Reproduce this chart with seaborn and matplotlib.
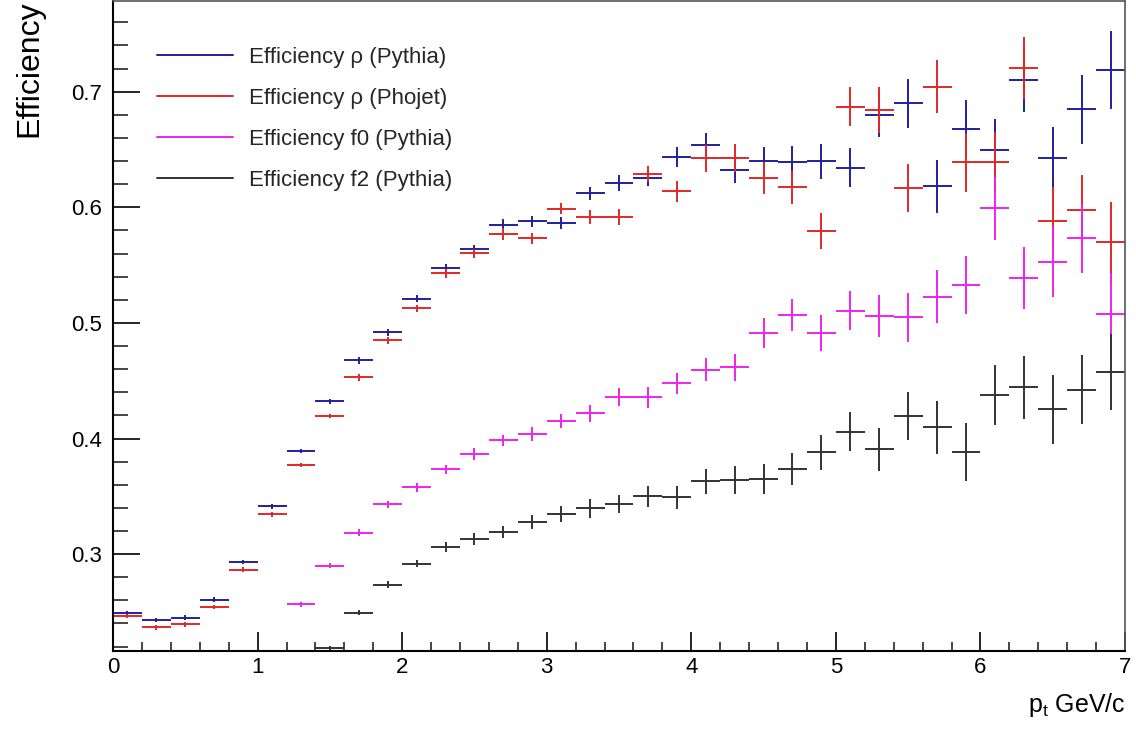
import numpy as np
import pandas as pd
import matplotlib
matplotlib.use("Agg")
import matplotlib.pyplot as plt
from matplotlib.lines import Line2D
from matplotlib.ticker import MultipleLocator
from matplotlib import font_manager
import seaborn as sns

# ---------------- data ----------------
bin_centers = [round(0.1 + 0.2 * i, 1) for i in range(35)]
bin_halfwidth = 0.1

rho_pythia = [0.2488, 0.2430, 0.2451, 0.2607, 0.2931, 0.3412, 0.3893, 0.4322, 0.4676, 0.4920,
              0.5211, 0.5473, 0.5637, 0.5848, 0.5879, 0.5863, 0.6120, 0.6212, 0.6252, 0.6435,
              0.6543, 0.6323, 0.6398, 0.6392, 0.6398, 0.6343, 0.6798, 0.6899, 0.6182, 0.6680,
              0.6496, 0.7098, 0.6424, 0.6847, 0.7188]
rho_pythia_err = [0.002, 0.002, 0.002, 0.002, 0.002, 0.002, 0.002, 0.002, 0.003, 0.003,
                  0.003, 0.004, 0.004, 0.005, 0.005, 0.005, 0.006, 0.007, 0.007, 0.009,
                  0.010, 0.011, 0.012, 0.014, 0.015, 0.017, 0.019, 0.021, 0.023, 0.025,
                  0.027, 0.027, 0.027, 0.030, 0.034]

rho_phojet = [0.2466, 0.2366, 0.2392, 0.2541, 0.2865, 0.3343, 0.3772, 0.4195, 0.4530, 0.4851,
              0.5127, 0.5430, 0.5602, 0.5767, 0.5732, 0.5988, 0.5916, 0.5917, 0.6291, 0.6140,
              0.6424, 0.6427, 0.6254, 0.6173, 0.5796, 0.6870, 0.6844, 0.6168, 0.7043, 0.6389,
              0.6389, 0.7205, 0.5882, 0.5978, 0.5698]
rho_phojet_err = [0.002, 0.002, 0.002, 0.002, 0.002, 0.002, 0.002, 0.002, 0.003, 0.003,
                  0.003, 0.004, 0.004, 0.005, 0.005, 0.005, 0.006, 0.007, 0.007, 0.009,
                  0.0115, 0.012, 0.0137, 0.014, 0.0154, 0.017, 0.020, 0.021, 0.023, 0.0256,
                  0.026, 0.027, 0.029, 0.030, 0.035]

f0_pythia = [np.nan, np.nan, np.nan, np.nan, np.nan, np.nan,
             0.2565, 0.2900, 0.3186, 0.3430,
             0.3577, 0.3733, 0.3865, 0.3984, 0.4042, 0.4154, 0.4217, 0.4358, 0.4358, 0.4479,
             0.4597, 0.4615, 0.4911, 0.5067, 0.4914, 0.5107, 0.5058, 0.5047, 0.5228, 0.5326,
             0.5991, 0.5390, 0.5528, 0.5732, 0.5081]
f0_pythia_err = [np.nan, np.nan, np.nan, np.nan, np.nan, np.nan,
                 0.002, 0.002, 0.003, 0.003,
                 0.004, 0.004, 0.005, 0.005, 0.006, 0.006, 0.007, 0.008, 0.009, 0.009,
                 0.010, 0.012, 0.013, 0.014, 0.0157, 0.017, 0.018, 0.021, 0.023, 0.025,
                 0.027, 0.027, 0.030, 0.030, 0.035]

f2_pythia = [np.nan, np.nan, np.nan, np.nan, np.nan, np.nan, np.nan,
             0.2189, 0.2494, 0.2737,
             0.2915, 0.3062, 0.3130, 0.3191, 0.3278, 0.3347, 0.3396, 0.3433, 0.3500, 0.3491,
             0.3630, 0.3644, 0.3649, 0.3739, 0.3880, 0.4059, 0.3906, 0.4194, 0.4096, 0.3880,
             0.4375, 0.4442, 0.4252, 0.4424, 0.4574]
f2_pythia_err = [np.nan, np.nan, np.nan, np.nan, np.nan, np.nan, np.nan,
                 0.002, 0.002, 0.003,
                 0.003, 0.0045, 0.005, 0.005, 0.006, 0.007, 0.008, 0.008, 0.009, 0.010,
                 0.011, 0.012, 0.013, 0.0137, 0.0154, 0.017, 0.0186, 0.021, 0.023, 0.025,
                 0.026, 0.027, 0.030, 0.030, 0.033]

series_labels = ["Efficiency \u03c1 (Pythia)", "Efficiency \u03c1 (Phojet)",
                 "Efficiency f0 (Pythia)", "Efficiency f2 (Pythia)"]
series_colors = ["#2020a0", "#e22828", "#ee22ee", "#333333"]
x_ticks = [0, 1, 2, 3, 4, 5, 6, 7]
y_ticks = [0.3, 0.4, 0.5, 0.6, 0.7]

frames = []
for lab, vals, errs in zip(series_labels,
                           [rho_pythia, rho_phojet, f0_pythia, f2_pythia],
                           [rho_pythia_err, rho_phojet_err, f0_pythia_err, f2_pythia_err]):
    frames.append(pd.DataFrame({"pt": bin_centers, "eff": vals, "err": errs, "series": lab}))
df = pd.concat(frames, ignore_index=True).dropna()

# ---------------- style ----------------
sns.set_theme(style="ticks")
available = {f.name for f in font_manager.fontManager.ttflist}
base_font = "Liberation Sans" if "Liberation Sans" in available else "DejaVu Sans"
narrow_font = "Liberation Sans Narrow" if "Liberation Sans Narrow" in available else base_font
plt.rcParams["font.family"] = [base_font, "DejaVu Sans"]
plt.rcParams["mathtext.fontset"] = "custom"
plt.rcParams["mathtext.rm"] = base_font
plt.rcParams["mathtext.it"] = base_font

fig = plt.figure(figsize=(11.36, 7.36), dpi=100)
ax = fig.add_axes([0.0995, 0.1155, 0.8908, 0.8835])
ax.set_facecolor("white")
fig.patch.set_facecolor("white")

for lab, col in zip(series_labels, series_colors):
    d = df[df["series"] == lab]
    ax.errorbar(d["pt"], d["eff"], yerr=d["err"], xerr=bin_halfwidth,
                fmt="none", ecolor=col, elinewidth=1.4, capsize=0)

ax.set_xlim(0, 7)
ax.set_ylim(0.2162, 0.7787)
ax.set_xticks(x_ticks)
ax.set_yticks(y_ticks)
ax.set_xticklabels([str(t) for t in x_ticks])
ax.set_yticklabels([f"{t:.1f}" for t in y_ticks])
ax.xaxis.set_minor_locator(MultipleLocator(0.2))
ax.yaxis.set_minor_locator(MultipleLocator(0.02))

tick_fs = 18 if narrow_font != base_font else 16
for lbl in ax.get_xticklabels() + ax.get_yticklabels():
    lbl.set_fontfamily(narrow_font)
    lbl.set_fontsize(tick_fs)

ax.tick_params(axis="y", which="major", direction="in", length=19.5, width=1.2,
               left=True, right=False, pad=8, colors="black")
ax.tick_params(axis="y", which="minor", direction="in", length=10.8, width=1.2,
               left=True, right=False)
ax.tick_params(axis="x", which="major", direction="in", length=13.7, width=1.2,
               bottom=True, top=False, pad=4, colors="black")
ax.tick_params(axis="x", which="minor", direction="in", length=6.8, width=1.2,
               bottom=True, top=False)

for side in ["left", "bottom"]:
    ax.spines[side].set_color("black")
    ax.spines[side].set_linewidth(1.5)
for side in ["top", "right"]:
    ax.spines[side].set_color("#555555")
    ax.spines[side].set_linewidth(1.2)
ax.grid(False)

ax.set_ylabel("Efficiency", loc="top", fontsize=23, color="black")
ax.yaxis.set_label_coords(-0.068, 1.0)
ax.set_xlabel(r"p$_{\rm t}$ GeV/c", loc="right", fontsize=18, color="black")
ax.xaxis.set_label_coords(1.0, -0.062)

handles = [Line2D([0], [0], color=c, lw=1.4) for c in series_colors]
ax.legend(handles, series_labels, loc="upper left", bbox_to_anchor=(0.0434, 0.929),
          frameon=False, fontsize=16, handlelength=3.4, handletextpad=0.72,
          labelspacing=0.9, borderpad=0, borderaxespad=0)

fig.savefig("out.png", dpi=100, facecolor="white")
